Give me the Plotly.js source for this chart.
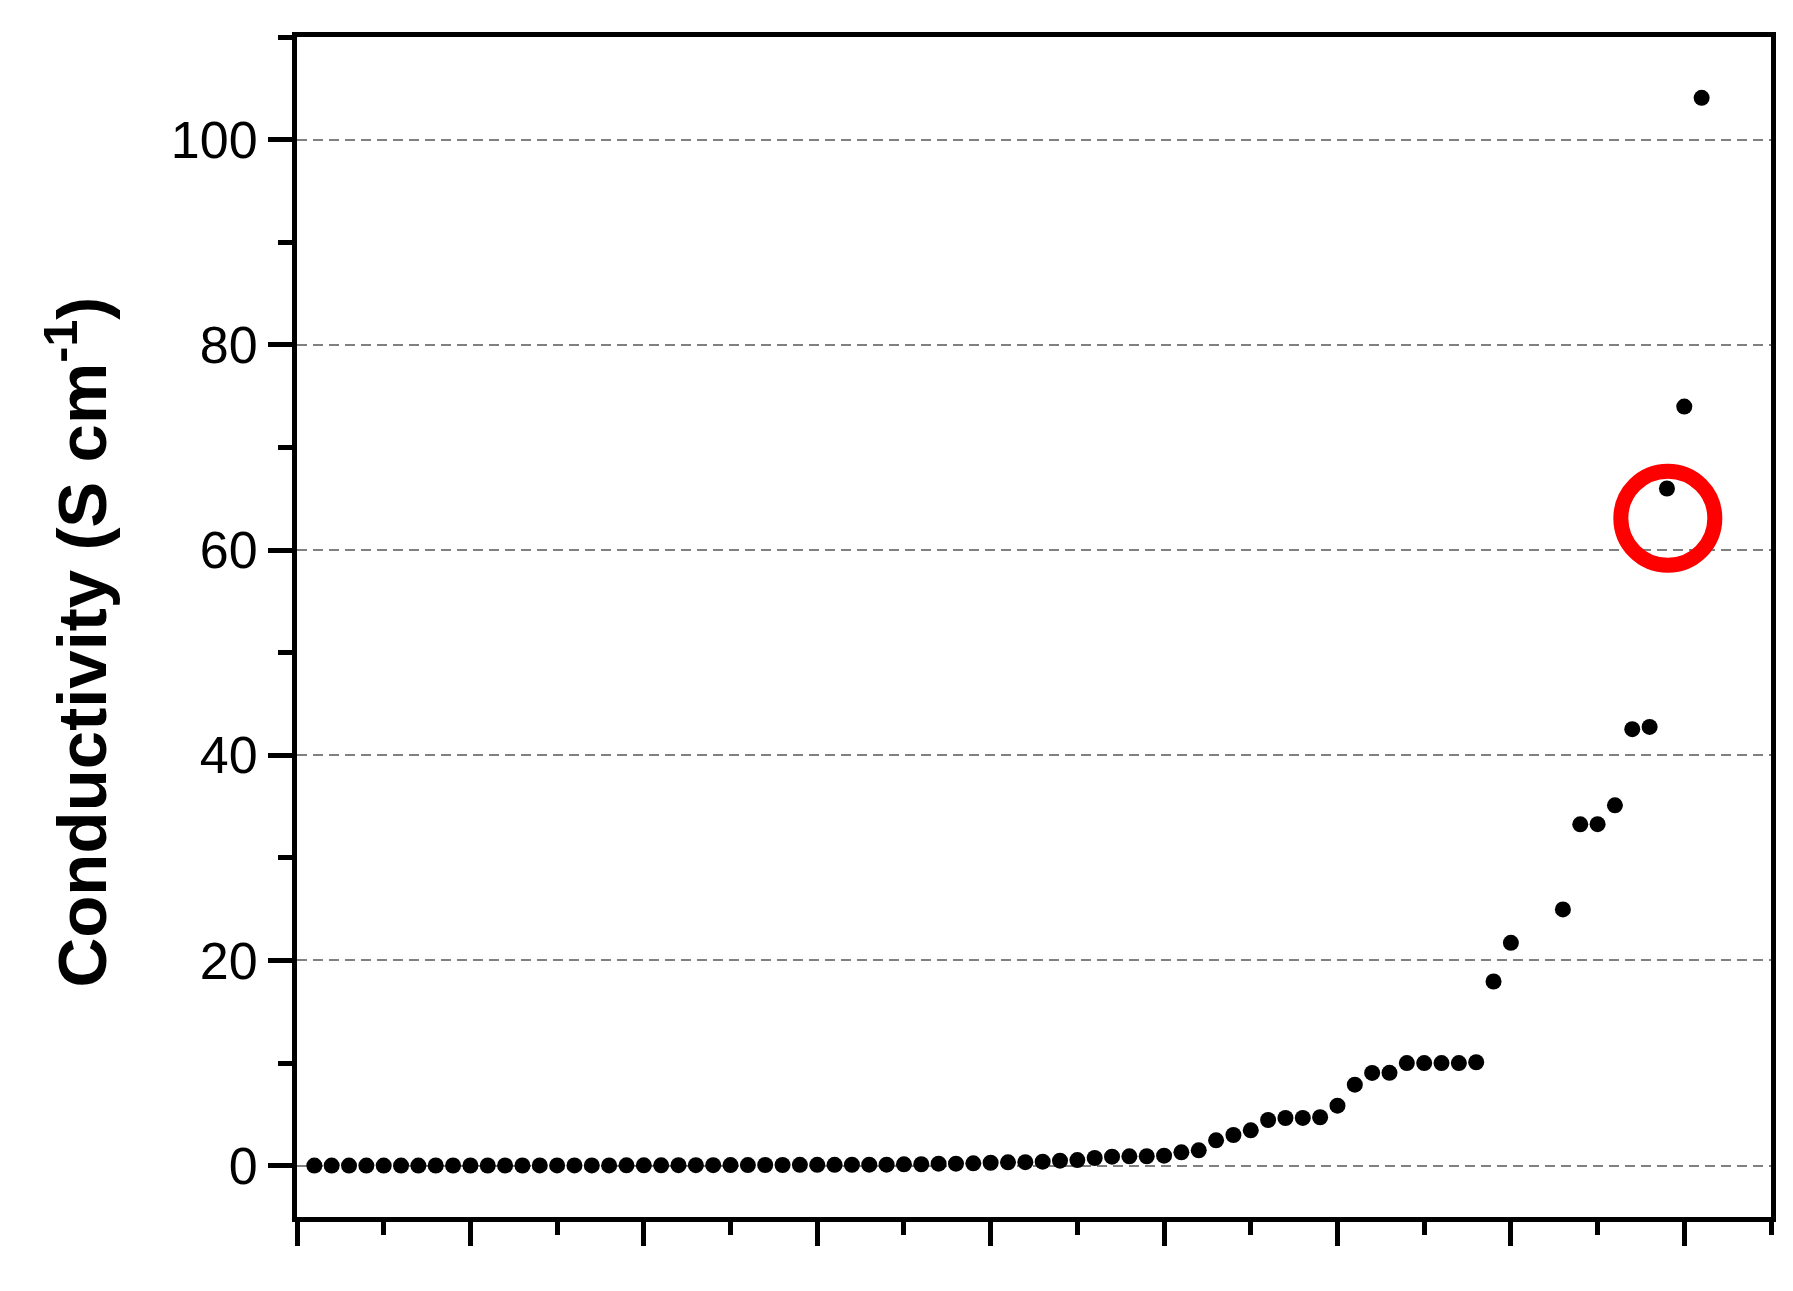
<!DOCTYPE html>
<html>
<head>
<meta charset="utf-8">
<script src="https://cdn.plot.ly/plotly-3.0.1.min.js"></script>
<style>
  html, body { margin: 0; padding: 0; background: #ffffff; }
  #chart { width: 1793px; height: 1291px; }
</style>
</head>
<body>
<div id="chart"></div>
<script>
// Sample index (x) — no samples at 71 and 72
const sampleIndex = [
  1, 2, 3, 4, 5, 6, 7, 8, 9, 10,
  11, 12, 13, 14, 15, 16, 17, 18, 19, 20,
  21, 22, 23, 24, 25, 26, 27, 28, 29, 30,
  31, 32, 33, 34, 35, 36, 37, 38, 39, 40,
  41, 42, 43, 44, 45, 46, 47, 48, 49, 50,
  51, 52, 53, 54, 55, 56, 57, 58, 59, 60,
  61, 62, 63, 64, 65, 66, 67, 68, 69, 70,
  73, 74, 75, 76, 77, 78, 79, 80, 81
];

// Conductivity (S cm^-1)
const conductivity = [
  0.01, 0.01, 0.01, 0.01, 0.01, 0.01, 0.01, 0.02, 0.02, 0.02,
  0.02, 0.02, 0.02, 0.03, 0.03, 0.03, 0.03, 0.03, 0.04, 0.04,
  0.04, 0.05, 0.05, 0.05, 0.06, 0.06, 0.07, 0.07, 0.08, 0.08,
  0.08, 0.09, 0.10, 0.10, 0.13, 0.14, 0.20, 0.20, 0.23, 0.29,
  0.33, 0.34, 0.39, 0.49, 0.55, 0.75, 0.88, 0.91, 0.92, 0.98,
  1.30, 1.50, 2.47, 2.99, 3.45, 4.45, 4.65, 4.66, 4.72, 5.85,
  7.90, 9.04, 9.05, 10.0, 10.0, 10.0, 10.0, 10.08, 17.95, 21.72,
  24.98, 33.27, 33.28, 35.12, 42.54, 42.76, 66.0, 73.98, 104.07
];

// Highlight circle (data units)
const highlightCenter = [79.05, 63.1];
const highlightRadius = [2.71, 4.59];

const yTitle = '<b>Conductivity (S cm<sup>-1</sup>)</b>';
const FONT = '"Liberation Sans", Arial, Helvetica, sans-serif';

const trace = {
  x: sampleIndex,
  y: conductivity,
  type: 'scatter',
  mode: 'markers',
  marker: { color: '#000000', size: 16, line: { width: 0 } },
  hoverinfo: 'x+y',
  showlegend: false
};

const axisCommon = {
  showline: true,
  linecolor: '#000000',
  linewidth: 5,
  mirror: true,
  ticks: 'outside',
  tickcolor: '#000000',
  tickwidth: 5,
  ticklen: 24,
  zeroline: false
};

const layout = {
  width: 1793,
  height: 1291,
  margin: { l: 297, r: 22, t: 37, b: 74, pad: 0 },
  paper_bgcolor: '#ffffff',
  plot_bgcolor: '#ffffff',
  font: { family: FONT, color: '#000000' },
  showlegend: false,
  xaxis: Object.assign({}, axisCommon, {
    range: [0, 85],
    tick0: 0,
    dtick: 10,
    showticklabels: false,
    showgrid: false,
    minor: { ticks: 'outside', tick0: 0, dtick: 5, ticklen: 13, tickwidth: 5, tickcolor: '#000000', showgrid: false }
  }),
  yaxis: Object.assign({}, axisCommon, {
    range: [-5, 110],
    tick0: 0,
    dtick: 20,
    showgrid: true,
    gridcolor: '#808080',
    gridwidth: 2,
    griddash: '10px,6px',
    tickfont: { family: FONT, size: 52, color: '#000000' },
    minor: { ticks: 'outside', tick0: 0, dtick: 10, ticklen: 14, tickwidth: 5, tickcolor: '#000000', showgrid: false }
  }),
  annotations: [{
    text: yTitle,
    xref: 'paper', yref: 'paper',
    x: -0.1495, y: 0.4873,
    xanchor: 'center', yanchor: 'middle',
    textangle: -90,
    showarrow: false,
    font: { family: FONT, size: 69, color: '#000000' }
  }],
  shapes: [{
    type: 'circle',
    xref: 'x', yref: 'y',
    x0: highlightCenter[0] - highlightRadius[0],
    x1: highlightCenter[0] + highlightRadius[0],
    y0: highlightCenter[1] - highlightRadius[1],
    y1: highlightCenter[1] + highlightRadius[1],
    line: { color: '#ff0000', width: 15 },
    fillcolor: 'rgba(0,0,0,0)',
    layer: 'above'
  }]
};

Plotly.newPlot('chart', [trace], layout, { displayModeBar: false, responsive: false });
</script>
</body>
</html>
